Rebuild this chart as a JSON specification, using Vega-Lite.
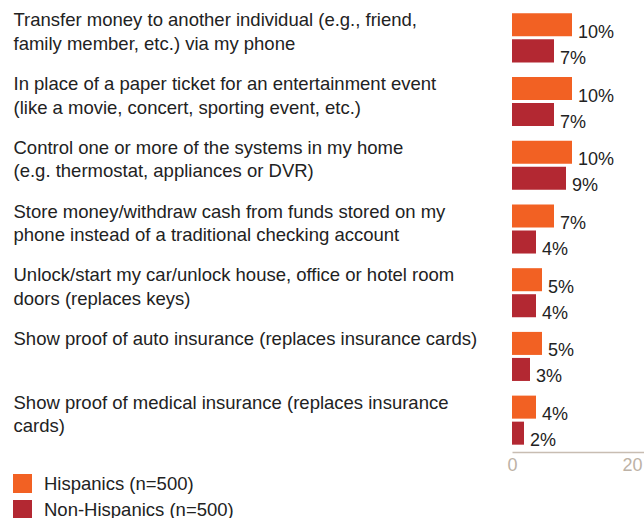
{
  "$schema": "https://vega.github.io/schema/vega-lite/v6.json",
  "width": 132,
  "height": 446,
  "autosize": {"type": "none"},
  "padding": {"left": 512, "top": 6, "right": 0, "bottom": 66},
  "config": {
    "view": {"stroke": null},
    "font": "Liberation Sans",
    "text": {"font": "Liberation Sans"}
  },
  "data": {
    "values": [
      {"item": "Transfer money to another individual (e.g., friend,|family member, etc.) via my phone", "group": "Hispanics (n=500)", "value": 10},
      {"item": "Transfer money to another individual (e.g., friend,|family member, etc.) via my phone", "group": "Non-Hispanics (n=500)", "value": 7},
      {"item": "In place of a paper ticket for an entertainment event|(like a movie, concert, sporting event, etc.)", "group": "Hispanics (n=500)", "value": 10},
      {"item": "In place of a paper ticket for an entertainment event|(like a movie, concert, sporting event, etc.)", "group": "Non-Hispanics (n=500)", "value": 7},
      {"item": "Control one or more of the systems in my home|(e.g. thermostat, appliances or DVR)", "group": "Hispanics (n=500)", "value": 10},
      {"item": "Control one or more of the systems in my home|(e.g. thermostat, appliances or DVR)", "group": "Non-Hispanics (n=500)", "value": 9},
      {"item": "Store money/withdraw cash from funds stored on my|phone instead of a traditional checking account", "group": "Hispanics (n=500)", "value": 7},
      {"item": "Store money/withdraw cash from funds stored on my|phone instead of a traditional checking account", "group": "Non-Hispanics (n=500)", "value": 4},
      {"item": "Unlock/start my car/unlock house, office or hotel room|doors (replaces keys)", "group": "Hispanics (n=500)", "value": 5},
      {"item": "Unlock/start my car/unlock house, office or hotel room|doors (replaces keys)", "group": "Non-Hispanics (n=500)", "value": 4},
      {"item": "Show proof of auto insurance (replaces insurance cards)", "group": "Hispanics (n=500)", "value": 5},
      {"item": "Show proof of auto insurance (replaces insurance cards)", "group": "Non-Hispanics (n=500)", "value": 3},
      {"item": "Show proof of medical insurance (replaces insurance|cards)", "group": "Hispanics (n=500)", "value": 4},
      {"item": "Show proof of medical insurance (replaces insurance|cards)", "group": "Non-Hispanics (n=500)", "value": 2}
    ]
  },
  "encoding": {
    "y": {
      "field": "item",
      "type": "nominal",
      "sort": null,
      "scale": {"paddingInner": 0.23, "paddingOuter": 0.115},
      "axis": {
        "title": null,
        "domain": false,
        "ticks": false,
        "labelAlign": "left",
        "labelPadding": 499,
        "labelLimit": 600,
        "labelBaseline": "alphabetic",
        "labelOffset": -11.5,
        "labelLineHeight": 23.5,
        "labelFontSize": 18.5,
        "labelColor": "#222222",
        "labelFont": "Liberation Sans",
        "labelExpr": "split(datum.label, '|')"
      }
    },
    "yOffset": {
      "field": "group",
      "type": "nominal",
      "sort": ["Hispanics (n=500)", "Non-Hispanics (n=500)"],
      "scale": {"paddingInner": 0.115, "paddingOuter": 0}
    },
    "x": {
      "field": "value",
      "type": "quantitative",
      "scale": {"domain": [0, 22], "nice": false},
      "axis": {
        "title": null,
        "values": [0, 20],
        "grid": false,
        "ticks": false,
        "domainColor": "#c8bdb2",
        "domainWidth": 1.5,
        "labelColor": "#bdb2a6",
        "labelFontSize": 18,
        "labelPadding": 4,
        "labelFont": "Liberation Sans",
        "labelFlush": false
      }
    }
  },
  "layer": [
    {
      "mark": {"type": "bar"},
      "encoding": {
        "color": {
          "field": "group",
          "type": "nominal",
          "sort": ["Hispanics (n=500)", "Non-Hispanics (n=500)"],
          "scale": {"range": ["#f26123", "#b32832"]},
          "legend": {
            "title": null,
            "orient": "none",
            "legendX": -499,
            "legendY": 468,
            "direction": "vertical",
            "symbolType": "square",
            "symbolSize": 361,
            "symbolStrokeWidth": 0,
            "symbolOpacity": 1,
            "labelFontSize": 18.5,
            "labelColor": "#222222",
            "labelFont": "Liberation Sans",
            "labelOffset": 12,
            "rowPadding": 7,
            "padding": 0,
            "labelLimit": 400
          }
        }
      }
    },
    {
      "mark": {"type": "text", "align": "left", "baseline": "middle", "dx": 6, "dy": 8, "fontSize": 18, "color": "#222222", "text": {"expr": "datum.value + '%'"}},
      "encoding": {}
    }
  ]
}
